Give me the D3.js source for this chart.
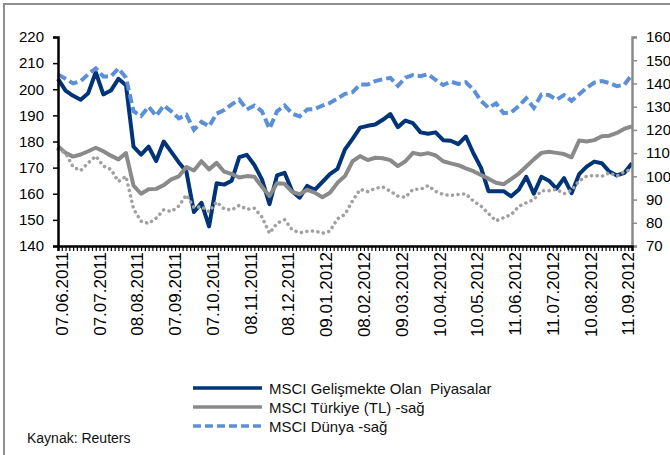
<!DOCTYPE html>
<html><head><meta charset="utf-8">
<script src="https://cdn.jsdelivr.net/npm/d3@7"></script>
<style>
html,body{margin:0;padding:0;background:#fff;}
svg{display:block;font-family:"Liberation Sans",Arial,sans-serif;}
</style></head>
<body>
<svg id="c" width="670" height="455"></svg>
<script>
// category labels (every 10th tick)
const dateLabels = ["07.06.2011","07.07.2011","08.08.2011","07.09.2011","07.10.2011","08.11.2011","08.12.2011","09.01.2012","08.02.2012","09.03.2012","10.04.2012","10.05.2012","11.06.2012","11.07.2012","10.08.2012","11.09.2012"];
const labelIdx = dateLabels.map((d,i)=>1+i*10);
// sample positions (tick index)
const idx = d3.range(0,153,2);
// MSCI Gelişmekte Olan Piyasalar (left axis)
const emerging = [204,199.5,197.5,196,198.5,206.5,198,199.5,204,201.5,178,175,178,172.5,180,176,172,168.5,153,156.5,147.5,164,163.5,165,
174,174.9,171,165.5,156,167,168,161,158.5,163,161.5,164.5,167.5,169.5,177,181,185.3,186,186.5,188.3,190.5,185.5,188,187,183.5,183,183.5,180.5,
180.3,179,181.9,175.5,170,161,161,161,159,161.5,166.5,160,166.5,165,162,166,160.2,167.5,170.4,172.3,171.7,168.5,167,168,171.7];
// MSCI Türkiye (TL) - right axis
const turkey = [113,110.1,108.5,109.4,110.8,112.3,110.8,108.9,107.3,110,96,92.5,94.4,94.6,96.2,98.7,100,104,102.5,106.5,103,105.8,102,101,
99.5,100.1,99.8,95.5,91.5,97,96.8,93.3,92.3,94.2,93,91,92.9,97.2,100.1,106.5,108.7,107,108,107.8,107,104.4,106.5,110.1,109.4,110,109,106.5,
105.6,104.8,103.4,102.2,100.6,99,97.2,96.6,98.8,101.2,104.2,107.3,110.1,110.6,110.1,109.6,108.2,115.4,115,115.6,117.3,117.5,118.7,120.5,121.5];
// MSCI Dünya - right axis
const world = [143.8,142,140,141,144,146.5,143,143,146.5,142.5,128,126,130,126,130.5,128,125,126.5,120,123.5,121.5,127,128.5,131,
133,128.8,130.5,128,120.5,128,130.5,127,125.8,128.8,129,130.5,131.6,133.5,135.5,136.2,139.5,139.5,141,141.8,142.4,139,142.5,143.6,143.1,144,141.5,139.3,
140.8,139.8,140.5,137.4,132.5,129.5,131.4,127.2,127.5,130.3,133.6,129.5,135.2,135,133,135,132.5,135.3,138.1,140.4,141,140.2,138.8,139.5,143.8];
// unlabelled dotted series - right axis
const dotted = [111.6,110,104,102.5,105.8,108.7,104.4,103,97.8,100,86,80.7,79.7,82,85.6,84.8,87.2,92,86.5,87,84.8,89,86,85.5,
87.5,85.8,86.3,82.5,75.5,79.8,81.3,77,75.7,76.3,76.5,75.5,76.4,81.7,83.6,89.5,94.4,93.4,94.8,95.4,93.6,91.5,91,94.4,94.4,96,93.5,92.2,
91.8,92.2,92.5,89.3,87.2,84,80.8,82.2,83.5,87,88.6,90,93.8,93.8,94.4,92.5,94,98,100.1,100.4,100,101.5,100.1,102,103];
const leftTicks = [140,150,160,170,180,190,200,210,220];
const rightTicks = [70,80,90,100,110,120,130,140,150,160];
const legendNames = ["MSCI Gelişmekte Olan  Piyasalar","MSCI Türkiye (TL) -sağ","MSCI Dünya -sağ"];

const svg = d3.select("#c");
const L=58, R=632, T=37, B=246;
const x = d3.scaleLinear().domain([0,152]).range([L,R]);
const yL = d3.scaleLinear().domain([140,220]).range([B,T]);
const yR = d3.scaleLinear().domain([70,160]).range([B,T]);

// frame
svg.append("rect").attr("x",4).attr("y",4).attr("width",720).attr("height",520)
  .attr("fill","none").attr("stroke","#8f8f8f").attr("stroke-width",2);

const NAVY="#003478", GRAY="#8a8a8a", BLUE="#5b8fd8", DOT="#a0a0a0";

const mk = (ys, data) => d3.line().x((d,i)=>x(idx[i])).y(d=>ys(d))(data);
const g = svg.append("g");
g.append("path").attr("d",mk(yL,emerging)).attr("fill","none").attr("stroke",NAVY).attr("stroke-width",4).attr("stroke-linejoin","round");
g.append("path").attr("d",mk(yR,turkey)).attr("fill","none").attr("stroke",GRAY).attr("stroke-width",4).attr("stroke-linejoin","round");
g.append("path").attr("d",mk(yR,world)).attr("fill","none").attr("stroke",BLUE).attr("stroke-width",4).attr("stroke-dasharray","9,4");
g.append("path").attr("d",mk(yR,dotted)).attr("fill","none").attr("stroke",DOT).attr("stroke-width",3.5).attr("stroke-dasharray","0.1,5.5").attr("stroke-linecap","round");

// left axis
const ax = svg.append("g").attr("transform",`translate(${L},0)`)
  .call(d3.axisLeft(yL).tickValues(leftTicks).tickSize(5).tickPadding(9));
ax.select(".domain").attr("stroke","#000").attr("stroke-width",2.5);
ax.selectAll(".tick line").attr("stroke","#000").attr("stroke-width",1.5);
ax.selectAll("text").attr("font-size",15).attr("fill","#000").attr("font-family","Liberation Sans, Arial, sans-serif");

// right axis
const ar = svg.append("g").attr("transform",`translate(${R},0)`)
  .call(d3.axisRight(yR).tickValues(rightTicks).tickSize(5).tickPadding(9));
ar.select(".domain").attr("stroke","#8a8a8a").attr("stroke-width",2.5);
ar.selectAll(".tick line").attr("stroke","#8a8a8a").attr("stroke-width",1.5);
ar.selectAll("text").attr("font-size",15).attr("fill","#000").attr("font-family","Liberation Sans, Arial, sans-serif");

// bottom axis
const ab = svg.append("g").attr("transform",`translate(0,${B})`)
  .call(d3.axisBottom(x).tickValues(d3.range(0,153,1)).tickSize(5).tickFormat(""));
ab.select(".domain").attr("stroke","#000").attr("stroke-width",2.5);
ab.selectAll(".tick line").attr("stroke","#000").attr("stroke-width",1.2);

svg.append("g").selectAll("text").data(dateLabels).join("text")
  .attr("transform",(d,i)=>`translate(${x(labelIdx[i])},${B+6}) rotate(-90)`)
  .attr("text-anchor","end").attr("dy","0.36em")
  .attr("font-size",17).attr("fill","#000").text(d=>d);

// legend
const lg = svg.append("g");
const styles = [{c:NAVY,da:null},{c:GRAY,da:null},{c:BLUE,da:"8,4"}];
const rowY = [388,407,426];
legendNames.forEach((n,i)=>{
  lg.append("line").attr("x1",193).attr("x2",262).attr("y1",rowY[i]).attr("y2",rowY[i])
    .attr("stroke",styles[i].c).attr("stroke-width",3.5).attr("stroke-dasharray",styles[i].da);
  lg.append("text").attr("x",269).attr("y",rowY[i]+6).attr("font-size",15).attr("fill","#111")
    .attr("xml:space","preserve").style("white-space","pre").text(n);
});
svg.append("text").attr("x",27).attr("y",443).attr("font-size",14).attr("fill","#111").text("Kaynak: Reuters");
</script>
</body></html>
